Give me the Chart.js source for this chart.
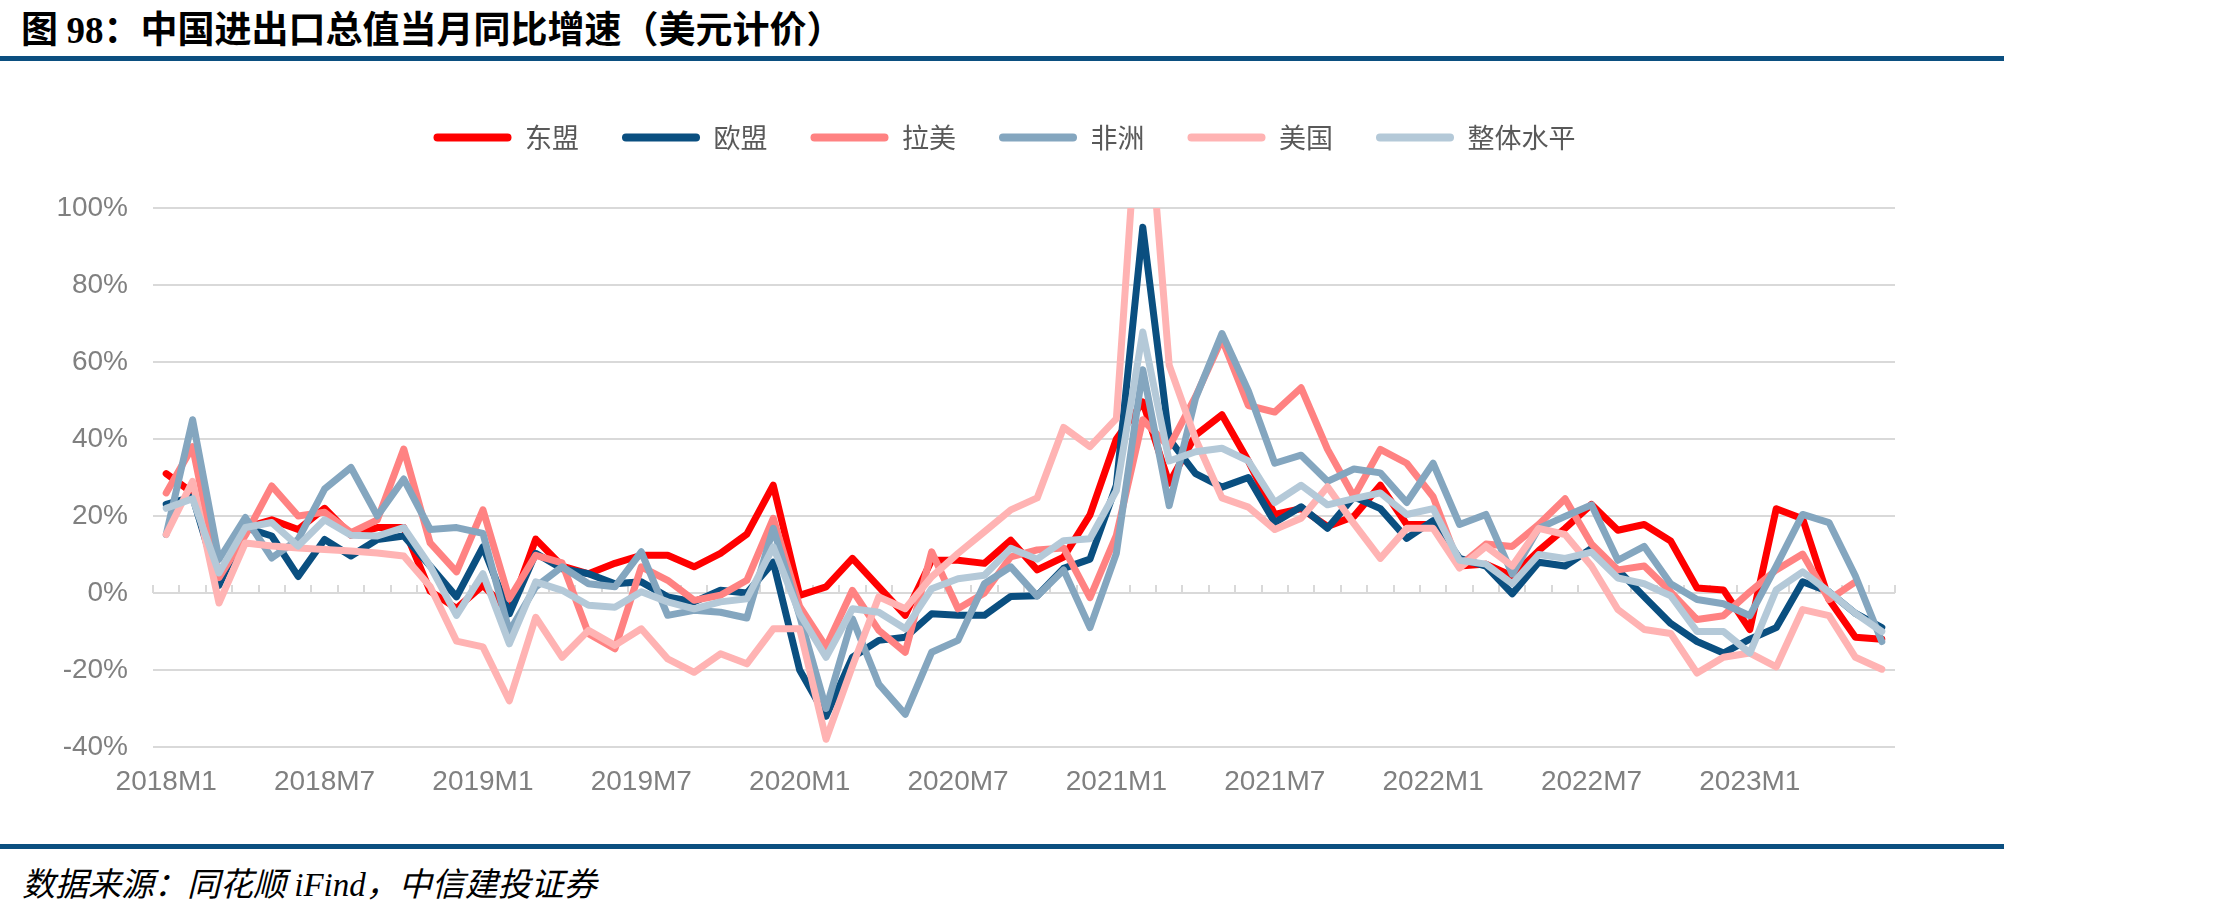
<!DOCTYPE html>
<html>
<head>
<meta charset="utf-8">
<script src="https://cdn.jsdelivr.net/npm/chart.js@4.4.0/dist/chart.umd.min.js"></script>
<style>
html,body{margin:0;padding:0;background:#fff}
body{width:2221px;height:913px;position:relative;overflow:hidden}
#title{position:absolute;left:21px;top:0px;font:bold 37px "Noto Sans CJK SC",sans-serif;color:#000;white-space:nowrap}
#title .num{font-family:"Liberation Serif",serif}
.rule{position:absolute;left:0;width:2004px;height:5px;background:#0b4f80}
#src{position:absolute;left:22px;top:858px;font:italic 33px "Liberation Serif","Noto Sans CJK SC",serif;color:#000;white-space:nowrap}
#wrap{position:absolute;left:0;top:81px;width:1920px;height:749px}
</style>
</head>
<body>
<div id="title">图 <span class="num">98</span>：中国进出口总值当月同比增速（美元计价）</div>
<div class="rule" style="top:56px"></div>
<div id="wrap"><canvas id="c"></canvas></div>
<div class="rule" style="top:844px"></div>
<div id="src">数据来源：同花顺 iFind，中信建投证券</div>
<script>
const months = [
  '2018M1','2018M2','2018M3','2018M4','2018M5','2018M6','2018M7','2018M8','2018M9','2018M10','2018M11','2018M12',
  '2019M1','2019M2','2019M3','2019M4','2019M5','2019M6','2019M7','2019M8','2019M9','2019M10','2019M11','2019M12',
  '2020M1','2020M2','2020M3','2020M4','2020M5','2020M6','2020M7','2020M8','2020M9','2020M10','2020M11','2020M12',
  '2021M1','2021M2','2021M3','2021M4','2021M5','2021M6','2021M7','2021M8','2021M9','2021M10','2021M11','2021M12',
  '2022M1','2022M2','2022M3','2022M4','2022M5','2022M6','2022M7','2022M8','2022M9','2022M10','2022M11','2022M12',
  '2023M1','2023M2','2023M3','2023M4','2023M5','2023M6'
]

// 同比增速，单位 %
const asean = [31,26,3,17,19,16.5,22,15,17,17, 0.5,-4,2,-5,14,7,5,7.7,9.8,9.8,
  6.8,10.3,15.3,28,-0.6,1.6,9,1.6,-5.8,8.5, 8.5,7.7,13.7,6,9.3,20.3,40,49.6,28.5,41,
  46.3,34.3,20.4,21.9,17.3,19.9,28,17.8,17.8,7, 7.5,4.4,11,16.8,23,16.3,17.8,13.5,1.3,0.8,
  -9.5,21.9,19.3,-1.7,-11.5,-12]
const eu = [23,25,2,17,14.8,4.3,13.9,9.6,13.9,14.8, 7,-1,12,-5.4,10.3,6.3,5,2.4,2.9,-1,
  -2.3,0.7,0,8,-20,-32,-16.7,-12.3,-11.5,-5.4, -5.8,-5.8,-0.9,-0.7,6.4,8.8,28,95,40,31,
  27.5,30,18.3,22.4,16.8,25,21.9,14.2,18.8,9, 7,-0.2,8,7,11.6,6,-1,-7.9,-12.6,-15.6,
  -12,-9,2.9,0.3,-5.3,-9]
const latam = [26,38,4,15,27.8,20,21,15.7,19,37.4, 13,5.5,21.6,-1.5,9.8,7.8,-10.6,-14.5,6.8,3.3,
  -1.9,-0.6,3.3,19.4,-3.5,-14,0.7,-9.7,-15.4,10.7, -4.1,0,9.4,11.2,11.7,-1.2,15,45,38,51,
  66,48.7,47,53.3,37.3,25,37.3,33.7,25,7, 12.7,12.1,17.8,24.5,12.7,6,7,0.3,-6.9,-5.9,
  0.3,6,10.1,-1.7,2.9,null]
const africa = [15.2,45,8.7,19.6,9.1,13.9,27,32.6,20,29.6, 16.5,17,15.5,-10,1.6,6.8,2.4,1.6,10.7,-5.8,
  -4.5,-5,-6.5,16.8,-6,-30,-6.7,-23.7,-31.5,-15.4, -12.3,2.4,6.8,-0.8,6,-9,10.3,58,22.7,50.6,
  67.4,52.5,33.7,35.8,29,32.2,31.2,23.5,33.7,17.8, 20.4,4.9,16.8,19.9,22.9,8.5,12.1,2.4,-1.7,-2.8,
  -5.9,7,20.4,18.3,4.4,-12.6]
const usa = [15.2,29,-2.6,13,12.2,11.7,11.3,10.9,10.4,9.6, 1.7,-12.5,-14,-28,-6.3,-16.7,-9.7,-13.6,-9.3,-17.1,
  -20.6,-15.8,-18.4,-9.3,-9.3,-38,-19,-1,-4.1,4.2, 10.3,15.9,21.6,24.7,43,38,45.3,145,59.2,40,
  24.7,22.3,16.5,19.4,27.6,18,9,16.8,16.8,6.5, 12.1,7,16.8,15.2,7,-4.3,-9.5,-10.5,-20.8,-16.7,
  -15.6,-19.2,-4.3,-5.9,-16.7,-19.8]
const total = [22,24.5,5.2,17,18.3,12.2,19,15,14.8,17, 7,-5.8,5,-13.2,2.9,0.7,-3.2,-3.7,0.3,-2.3,
  -4.1,-2.3,-1.5,12,-5.4,-16.7,-4.1,-5,-9.3,1.1, 3.7,4.6,11.6,8.8,13.6,14.1,26.6,67.8,34.3,36.7,
  37.6,34.3,23.5,28,22.9,24.5,26,20.4,21.9,8.5, 7.5,2.4,10,9,10.6,3.9,2.4,-0.7,-10,-10,
  -15.6,0.8,5.5,0.3,-5.3,-10]

const yTicks = [-40,-20,0,20,40,60,80,100]

// excel draws later series on top, chart.js draws low order on top
const mk = (label, data, color, order) => ({
  label, data, order,
  borderColor: color, backgroundColor: color,
  borderWidth: 7, pointRadius: 0, pointHoverRadius: 0, tension: 0,
  borderJoinStyle: 'round', borderCapStyle: 'round', clip: 0
})

const zeroTicks = {
  id: 'zeroTicks',
  beforeDatasetsDraw(chart){
    const {ctx, scales:{x, y}} = chart
    const y0 = y.getPixelForValue(0)
    const step = x.getPixelForValue(1) - x.getPixelForValue(0)
    const x0 = x.getPixelForValue(0) - step/2
    ctx.save()
    ctx.strokeStyle = '#d9d9d9'
    ctx.lineWidth = 2
    ctx.beginPath()
    for(let k=0;k<=months.length;k++){
      const px = Math.round(x0 + k*step)
      ctx.moveTo(px, y0)
      ctx.lineTo(px, y0-8)
    }
    ctx.stroke()
    ctx.restore()
  }
}

const legendSpot = {
  id: 'legendSpot',
  beforeInit(chart){
    const fit = chart.legend.fit
    chart.legend.fit = function(){ fit.call(this); this.height = 127 }
  },
  afterLayout(chart){
    chart.legend.left += 57
    chart.legend.right += 57
  }
}

Chart.defaults.font.family = '"Liberation Sans", Arial, sans-serif'

new Chart(document.getElementById('c'), {
  type: 'line',
  data: {
    labels: months,
    datasets: [
      mk('东盟', asean, '#ff0000', 6),
      mk('欧盟', eu, '#0a4f80', 5),
      mk('拉美', latam, '#ff8282', 4),
      mk('非洲', africa, '#84a6bf', 3),
      mk('美国', usa, '#ffb3b3', 2),
      mk('整体水平', total, '#b4c9d8', 1)
    ]
  },
  options: {
    responsive: true,
    maintainAspectRatio: false,
    animation: false,
    layout: {padding: {top: 0, right: 25, bottom: 0, left: 0}},
    plugins: {
      tooltip: {enabled: false},
      legend: {
        position: 'top',
        labels: {
          boxWidth: 78, boxHeight: 8, padding: 43,
          useBorderRadius: true, borderRadius: 4,
          color: '#595959',
          font: {family: '"Noto Sans CJK SC", sans-serif', size: 27},
          sort: (a,b) => a.datasetIndex - b.datasetIndex,
          generateLabels: chart => Chart.defaults.plugins.legend.labels.generateLabels(chart)
            .map(l => ({...l, lineWidth: 0, borderRadius: 4}))
        }
      }
    },
    scales: {
      x: {
        offset: true,
        grid: {display: false, drawTicks: false},
        border: {display: false},
        afterFit: s => { s.height = 83 },
        ticks: {
          autoSkip: false, maxRotation: 0, minRotation: 0, padding: 18,
          color: '#808080', font: {size: 28},
          callback(v, i){ return i % 6 === 0 ? months[i] : '' }
        }
      },
      y: {
        min: yTicks[0], max: yTicks[yTicks.length-1],
        afterFit: s => { s.width = 153 },
        afterBuildTicks: s => { s.ticks = yTicks.map(v => ({value: v})) },
        grid: {color: '#d9d9d9', lineWidth: 2, drawTicks: false},
        border: {display: false},
        ticks: {padding: 25, color: '#808080', font: {size: 28}, callback: v => v + '%'}
      }
    }
  },
  plugins: [zeroTicks, legendSpot]
})
</script>
</body>
</html>
